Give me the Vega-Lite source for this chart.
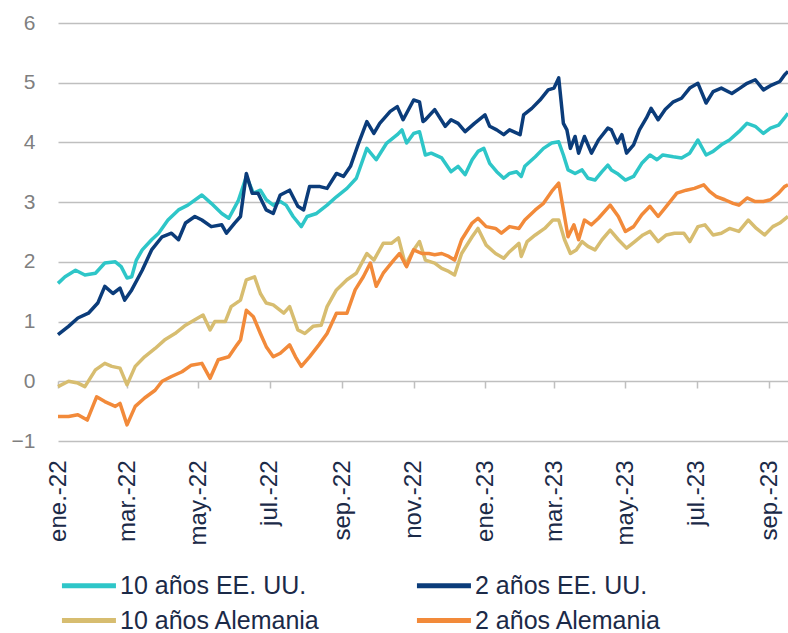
{
"$schema": "https://vega.github.io/schema/vega-lite/v6.json",
"width": 730, "height": 418,
"autosize": {"type": "none"},
"padding": {"left": 58, "top": 23, "right": 0, "bottom": 192},
"background": "white",
"config": {"view": {"stroke": null}, "font": "Liberation Sans"},
"data": {"values": [
{"s":"10 años EE. UU.","d":"2022-01-01","v":1.64},{"s":"10 años EE. UU.","d":"2022-01-07","v":1.75},{"s":"10 años EE. UU.","d":"2022-01-16","v":1.86},{"s":"10 años EE. UU.","d":"2022-01-24","v":1.78},{"s":"10 años EE. UU.","d":"2022-02-02","v":1.81},{"s":"10 años EE. UU.","d":"2022-02-10","v":1.98},{"s":"10 años EE. UU.","d":"2022-02-19","v":2.00},{"s":"10 años EE. UU.","d":"2022-02-24","v":1.92},{"s":"10 años EE. UU.","d":"2022-03-01","v":1.73},{"s":"10 años EE. UU.","d":"2022-03-05","v":1.75},{"s":"10 años EE. UU.","d":"2022-03-09","v":2.03},{"s":"10 años EE. UU.","d":"2022-03-14","v":2.20},{"s":"10 años EE. UU.","d":"2022-03-22","v":2.37},{"s":"10 años EE. UU.","d":"2022-03-28","v":2.48},{"s":"10 años EE. UU.","d":"2022-04-05","v":2.70},{"s":"10 años EE. UU.","d":"2022-04-14","v":2.87},{"s":"10 años EE. UU.","d":"2022-04-22","v":2.95},{"s":"10 años EE. UU.","d":"2022-05-04","v":3.12},{"s":"10 años EE. UU.","d":"2022-05-12","v":2.98},{"s":"10 años EE. UU.","d":"2022-05-21","v":2.81},{"s":"10 años EE. UU.","d":"2022-05-27","v":2.73},{"s":"10 años EE. UU.","d":"2022-06-04","v":3.02},{"s":"10 años EE. UU.","d":"2022-06-11","v":3.43},{"s":"10 años EE. UU.","d":"2022-06-17","v":3.15},{"s":"10 años EE. UU.","d":"2022-06-23","v":3.20},{"s":"10 años EE. UU.","d":"2022-06-28","v":3.04},{"s":"10 años EE. UU.","d":"2022-07-04","v":2.95},{"s":"10 años EE. UU.","d":"2022-07-10","v":3.01},{"s":"10 años EE. UU.","d":"2022-07-15","v":2.95},{"s":"10 años EE. UU.","d":"2022-07-21","v":2.76},{"s":"10 años EE. UU.","d":"2022-07-28","v":2.59},{"s":"10 años EE. UU.","d":"2022-08-02","v":2.76},{"s":"10 años EE. UU.","d":"2022-08-10","v":2.81},{"s":"10 años EE. UU.","d":"2022-08-19","v":2.95},{"s":"10 años EE. UU.","d":"2022-08-27","v":3.09},{"s":"10 años EE. UU.","d":"2022-09-05","v":3.23},{"s":"10 años EE. UU.","d":"2022-09-13","v":3.40},{"s":"10 años EE. UU.","d":"2022-09-22","v":3.90},{"s":"10 años EE. UU.","d":"2022-09-30","v":3.71},{"s":"10 años EE. UU.","d":"2022-10-09","v":3.99},{"s":"10 años EE. UU.","d":"2022-10-18","v":4.13},{"s":"10 años EE. UU.","d":"2022-10-22","v":4.21},{"s":"10 años EE. UU.","d":"2022-10-26","v":3.99},{"s":"10 años EE. UU.","d":"2022-11-01","v":4.15},{"s":"10 años EE. UU.","d":"2022-11-06","v":4.18},{"s":"10 años EE. UU.","d":"2022-11-11","v":3.79},{"s":"10 años EE. UU.","d":"2022-11-16","v":3.82},{"s":"10 años EE. UU.","d":"2022-11-25","v":3.74},{"s":"10 años EE. UU.","d":"2022-12-03","v":3.51},{"s":"10 años EE. UU.","d":"2022-12-09","v":3.60},{"s":"10 años EE. UU.","d":"2022-12-15","v":3.46},{"s":"10 años EE. UU.","d":"2022-12-21","v":3.71},{"s":"10 años EE. UU.","d":"2022-12-26","v":3.85},{"s":"10 años EE. UU.","d":"2022-12-31","v":3.90},{"s":"10 años EE. UU.","d":"2023-01-05","v":3.65},{"s":"10 años EE. UU.","d":"2023-01-11","v":3.51},{"s":"10 años EE. UU.","d":"2023-01-17","v":3.40},{"s":"10 años EE. UU.","d":"2023-01-22","v":3.48},{"s":"10 años EE. UU.","d":"2023-01-28","v":3.51},{"s":"10 años EE. UU.","d":"2023-02-01","v":3.43},{"s":"10 años EE. UU.","d":"2023-02-04","v":3.60},{"s":"10 años EE. UU.","d":"2023-02-13","v":3.76},{"s":"10 años EE. UU.","d":"2023-02-20","v":3.90},{"s":"10 años EE. UU.","d":"2023-02-27","v":3.99},{"s":"10 años EE. UU.","d":"2023-03-05","v":4.01},{"s":"10 años EE. UU.","d":"2023-03-09","v":3.79},{"s":"10 años EE. UU.","d":"2023-03-13","v":3.54},{"s":"10 años EE. UU.","d":"2023-03-19","v":3.48},{"s":"10 años EE. UU.","d":"2023-03-25","v":3.54},{"s":"10 años EE. UU.","d":"2023-03-30","v":3.40},{"s":"10 años EE. UU.","d":"2023-04-05","v":3.37},{"s":"10 años EE. UU.","d":"2023-04-11","v":3.51},{"s":"10 años EE. UU.","d":"2023-04-16","v":3.62},{"s":"10 años EE. UU.","d":"2023-04-19","v":3.54},{"s":"10 años EE. UU.","d":"2023-04-24","v":3.48},{"s":"10 años EE. UU.","d":"2023-05-01","v":3.37},{"s":"10 años EE. UU.","d":"2023-05-08","v":3.43},{"s":"10 años EE. UU.","d":"2023-05-15","v":3.65},{"s":"10 años EE. UU.","d":"2023-05-22","v":3.79},{"s":"10 años EE. UU.","d":"2023-05-28","v":3.71},{"s":"10 años EE. UU.","d":"2023-06-02","v":3.79},{"s":"10 años EE. UU.","d":"2023-06-11","v":3.76},{"s":"10 años EE. UU.","d":"2023-06-18","v":3.74},{"s":"10 años EE. UU.","d":"2023-06-25","v":3.82},{"s":"10 años EE. UU.","d":"2023-07-02","v":4.04},{"s":"10 años EE. UU.","d":"2023-07-09","v":3.79},{"s":"10 años EE. UU.","d":"2023-07-15","v":3.85},{"s":"10 años EE. UU.","d":"2023-07-22","v":3.96},{"s":"10 años EE. UU.","d":"2023-07-29","v":4.04},{"s":"10 años EE. UU.","d":"2023-08-06","v":4.18},{"s":"10 años EE. UU.","d":"2023-08-13","v":4.32},{"s":"10 años EE. UU.","d":"2023-08-20","v":4.27},{"s":"10 años EE. UU.","d":"2023-08-27","v":4.15},{"s":"10 años EE. UU.","d":"2023-09-02","v":4.24},{"s":"10 años EE. UU.","d":"2023-09-09","v":4.29},{"s":"10 años EE. UU.","d":"2023-09-14","v":4.41},{"s":"10 años EE. UU.","d":"2023-09-17","v":4.49},
{"s":"2 años EE. UU.","d":"2022-01-01","v":0.78},{"s":"2 años EE. UU.","d":"2022-01-10","v":0.92},{"s":"2 años EE. UU.","d":"2022-01-18","v":1.06},{"s":"2 años EE. UU.","d":"2022-01-27","v":1.14},{"s":"2 años EE. UU.","d":"2022-02-04","v":1.31},{"s":"2 años EE. UU.","d":"2022-02-10","v":1.59},{"s":"2 años EE. UU.","d":"2022-02-17","v":1.47},{"s":"2 años EE. UU.","d":"2022-02-23","v":1.56},{"s":"2 años EE. UU.","d":"2022-02-27","v":1.36},{"s":"2 años EE. UU.","d":"2022-03-05","v":1.53},{"s":"2 años EE. UU.","d":"2022-03-14","v":1.86},{"s":"2 años EE. UU.","d":"2022-03-22","v":2.20},{"s":"2 años EE. UU.","d":"2022-03-31","v":2.42},{"s":"2 años EE. UU.","d":"2022-04-08","v":2.48},{"s":"2 años EE. UU.","d":"2022-04-14","v":2.37},{"s":"2 años EE. UU.","d":"2022-04-20","v":2.65},{"s":"2 años EE. UU.","d":"2022-04-28","v":2.76},{"s":"2 años EE. UU.","d":"2022-05-04","v":2.70},{"s":"2 años EE. UU.","d":"2022-05-12","v":2.59},{"s":"2 años EE. UU.","d":"2022-05-21","v":2.62},{"s":"2 años EE. UU.","d":"2022-05-25","v":2.48},{"s":"2 años EE. UU.","d":"2022-06-01","v":2.65},{"s":"2 años EE. UU.","d":"2022-06-06","v":2.76},{"s":"2 años EE. UU.","d":"2022-06-11","v":3.48},{"s":"2 años EE. UU.","d":"2022-06-16","v":3.15},{"s":"2 años EE. UU.","d":"2022-06-21","v":3.15},{"s":"2 años EE. UU.","d":"2022-06-28","v":2.87},{"s":"2 años EE. UU.","d":"2022-07-04","v":2.81},{"s":"2 años EE. UU.","d":"2022-07-10","v":3.12},{"s":"2 años EE. UU.","d":"2022-07-18","v":3.20},{"s":"2 años EE. UU.","d":"2022-07-25","v":2.93},{"s":"2 años EE. UU.","d":"2022-07-30","v":2.87},{"s":"2 años EE. UU.","d":"2022-08-04","v":3.26},{"s":"2 años EE. UU.","d":"2022-08-13","v":3.26},{"s":"2 años EE. UU.","d":"2022-08-19","v":3.23},{"s":"2 años EE. UU.","d":"2022-08-27","v":3.48},{"s":"2 años EE. UU.","d":"2022-09-02","v":3.43},{"s":"2 años EE. UU.","d":"2022-09-08","v":3.60},{"s":"2 años EE. UU.","d":"2022-09-15","v":3.99},{"s":"2 años EE. UU.","d":"2022-09-22","v":4.35},{"s":"2 años EE. UU.","d":"2022-09-28","v":4.15},{"s":"2 años EE. UU.","d":"2022-10-03","v":4.32},{"s":"2 años EE. UU.","d":"2022-10-12","v":4.52},{"s":"2 años EE. UU.","d":"2022-10-18","v":4.60},{"s":"2 años EE. UU.","d":"2022-10-23","v":4.38},{"s":"2 años EE. UU.","d":"2022-11-01","v":4.71},{"s":"2 años EE. UU.","d":"2022-11-06","v":4.68},{"s":"2 años EE. UU.","d":"2022-11-09","v":4.35},{"s":"2 años EE. UU.","d":"2022-11-11","v":4.38},{"s":"2 años EE. UU.","d":"2022-11-19","v":4.55},{"s":"2 años EE. UU.","d":"2022-11-28","v":4.27},{"s":"2 años EE. UU.","d":"2022-12-03","v":4.38},{"s":"2 años EE. UU.","d":"2022-12-09","v":4.32},{"s":"2 años EE. UU.","d":"2022-12-15","v":4.18},{"s":"2 años EE. UU.","d":"2022-12-23","v":4.32},{"s":"2 años EE. UU.","d":"2023-01-01","v":4.46},{"s":"2 años EE. UU.","d":"2023-01-05","v":4.27},{"s":"2 años EE. UU.","d":"2023-01-11","v":4.21},{"s":"2 años EE. UU.","d":"2023-01-17","v":4.13},{"s":"2 años EE. UU.","d":"2023-01-22","v":4.21},{"s":"2 años EE. UU.","d":"2023-01-31","v":4.13},{"s":"2 años EE. UU.","d":"2023-02-03","v":4.46},{"s":"2 años EE. UU.","d":"2023-02-10","v":4.57},{"s":"2 años EE. UU.","d":"2023-02-17","v":4.71},{"s":"2 años EE. UU.","d":"2023-02-24","v":4.88},{"s":"2 años EE. UU.","d":"2023-03-01","v":4.91},{"s":"2 años EE. UU.","d":"2023-03-05","v":5.08},{"s":"2 años EE. UU.","d":"2023-03-09","v":4.32},{"s":"2 años EE. UU.","d":"2023-03-12","v":4.21},{"s":"2 años EE. UU.","d":"2023-03-15","v":3.90},{"s":"2 años EE. UU.","d":"2023-03-19","v":4.10},{"s":"2 años EE. UU.","d":"2023-03-22","v":3.82},{"s":"2 años EE. UU.","d":"2023-03-27","v":4.10},{"s":"2 años EE. UU.","d":"2023-04-02","v":3.82},{"s":"2 años EE. UU.","d":"2023-04-08","v":4.04},{"s":"2 años EE. UU.","d":"2023-04-16","v":4.24},{"s":"2 años EE. UU.","d":"2023-04-19","v":4.21},{"s":"2 años EE. UU.","d":"2023-04-24","v":3.99},{"s":"2 años EE. UU.","d":"2023-04-28","v":4.13},{"s":"2 años EE. UU.","d":"2023-05-02","v":3.82},{"s":"2 años EE. UU.","d":"2023-05-08","v":3.96},{"s":"2 años EE. UU.","d":"2023-05-13","v":4.21},{"s":"2 años EE. UU.","d":"2023-05-19","v":4.41},{"s":"2 años EE. UU.","d":"2023-05-23","v":4.57},{"s":"2 años EE. UU.","d":"2023-05-29","v":4.38},{"s":"2 años EE. UU.","d":"2023-06-04","v":4.55},{"s":"2 años EE. UU.","d":"2023-06-11","v":4.68},{"s":"2 años EE. UU.","d":"2023-06-18","v":4.74},{"s":"2 años EE. UU.","d":"2023-06-25","v":4.91},{"s":"2 años EE. UU.","d":"2023-07-02","v":4.99},{"s":"2 años EE. UU.","d":"2023-07-09","v":4.66},{"s":"2 años EE. UU.","d":"2023-07-15","v":4.85},{"s":"2 años EE. UU.","d":"2023-07-22","v":4.91},{"s":"2 años EE. UU.","d":"2023-07-31","v":4.82},{"s":"2 años EE. UU.","d":"2023-08-07","v":4.91},{"s":"2 años EE. UU.","d":"2023-08-13","v":4.99},{"s":"2 años EE. UU.","d":"2023-08-20","v":5.05},{"s":"2 años EE. UU.","d":"2023-08-27","v":4.88},{"s":"2 años EE. UU.","d":"2023-09-03","v":4.96},{"s":"2 años EE. UU.","d":"2023-09-10","v":5.02},{"s":"2 años EE. UU.","d":"2023-09-14","v":5.13},{"s":"2 años EE. UU.","d":"2023-09-17","v":5.19},
{"s":"10 años Alemania","d":"2022-01-01","v":-0.09},{"s":"10 años Alemania","d":"2022-01-10","v":0.00},{"s":"10 años Alemania","d":"2022-01-18","v":-0.03},{"s":"10 años Alemania","d":"2022-01-24","v":-0.09},{"s":"10 años Alemania","d":"2022-02-02","v":0.19},{"s":"10 años Alemania","d":"2022-02-10","v":0.30},{"s":"10 años Alemania","d":"2022-02-16","v":0.25},{"s":"10 años Alemania","d":"2022-02-23","v":0.22},{"s":"10 años Alemania","d":"2022-03-01","v":-0.06},{"s":"10 años Alemania","d":"2022-03-08","v":0.25},{"s":"10 años Alemania","d":"2022-03-16","v":0.41},{"s":"10 años Alemania","d":"2022-03-25","v":0.55},{"s":"10 años Alemania","d":"2022-04-02","v":0.69},{"s":"10 años Alemania","d":"2022-04-11","v":0.80},{"s":"10 años Alemania","d":"2022-04-20","v":0.94},{"s":"10 años Alemania","d":"2022-04-28","v":1.03},{"s":"10 años Alemania","d":"2022-05-05","v":1.11},{"s":"10 años Alemania","d":"2022-05-11","v":0.86},{"s":"10 años Alemania","d":"2022-05-15","v":1.00},{"s":"10 años Alemania","d":"2022-05-24","v":1.00},{"s":"10 años Alemania","d":"2022-05-29","v":1.25},{"s":"10 años Alemania","d":"2022-06-06","v":1.36},{"s":"10 años Alemania","d":"2022-06-11","v":1.70},{"s":"10 años Alemania","d":"2022-06-18","v":1.75},{"s":"10 años Alemania","d":"2022-06-23","v":1.47},{"s":"10 años Alemania","d":"2022-06-28","v":1.31},{"s":"10 años Alemania","d":"2022-07-04","v":1.28},{"s":"10 años Alemania","d":"2022-07-13","v":1.14},{"s":"10 años Alemania","d":"2022-07-18","v":1.25},{"s":"10 años Alemania","d":"2022-07-25","v":0.86},{"s":"10 años Alemania","d":"2022-07-31","v":0.80},{"s":"10 años Alemania","d":"2022-08-07","v":0.92},{"s":"10 años Alemania","d":"2022-08-14","v":0.94},{"s":"10 años Alemania","d":"2022-08-19","v":1.25},{"s":"10 años Alemania","d":"2022-08-27","v":1.53},{"s":"10 años Alemania","d":"2022-09-05","v":1.70},{"s":"10 años Alemania","d":"2022-09-13","v":1.81},{"s":"10 años Alemania","d":"2022-09-22","v":2.14},{"s":"10 años Alemania","d":"2022-09-28","v":2.03},{"s":"10 años Alemania","d":"2022-10-06","v":2.31},{"s":"10 años Alemania","d":"2022-10-13","v":2.31},{"s":"10 años Alemania","d":"2022-10-19","v":2.40},{"s":"10 años Alemania","d":"2022-10-25","v":1.95},{"s":"10 años Alemania","d":"2022-11-01","v":2.20},{"s":"10 años Alemania","d":"2022-11-06","v":2.34},{"s":"10 años Alemania","d":"2022-11-11","v":2.03},{"s":"10 años Alemania","d":"2022-11-19","v":1.98},{"s":"10 años Alemania","d":"2022-11-25","v":1.89},{"s":"10 años Alemania","d":"2022-12-01","v":1.84},{"s":"10 años Alemania","d":"2022-12-06","v":1.78},{"s":"10 años Alemania","d":"2022-12-12","v":2.14},{"s":"10 años Alemania","d":"2022-12-21","v":2.42},{"s":"10 años Alemania","d":"2022-12-26","v":2.56},{"s":"10 años Alemania","d":"2023-01-02","v":2.28},{"s":"10 años Alemania","d":"2023-01-10","v":2.14},{"s":"10 años Alemania","d":"2023-01-17","v":2.06},{"s":"10 años Alemania","d":"2023-01-22","v":2.17},{"s":"10 años Alemania","d":"2023-01-30","v":2.31},{"s":"10 años Alemania","d":"2023-02-01","v":2.09},{"s":"10 años Alemania","d":"2023-02-06","v":2.34},{"s":"10 años Alemania","d":"2023-02-13","v":2.45},{"s":"10 años Alemania","d":"2023-02-21","v":2.56},{"s":"10 años Alemania","d":"2023-02-28","v":2.70},{"s":"10 años Alemania","d":"2023-03-05","v":2.70},{"s":"10 años Alemania","d":"2023-03-10","v":2.37},{"s":"10 años Alemania","d":"2023-03-15","v":2.14},{"s":"10 años Alemania","d":"2023-03-20","v":2.20},{"s":"10 años Alemania","d":"2023-03-25","v":2.34},{"s":"10 años Alemania","d":"2023-03-30","v":2.26},{"s":"10 años Alemania","d":"2023-04-05","v":2.20},{"s":"10 años Alemania","d":"2023-04-11","v":2.37},{"s":"10 años Alemania","d":"2023-04-18","v":2.53},{"s":"10 años Alemania","d":"2023-04-25","v":2.37},{"s":"10 años Alemania","d":"2023-05-02","v":2.23},{"s":"10 años Alemania","d":"2023-05-09","v":2.34},{"s":"10 años Alemania","d":"2023-05-16","v":2.45},{"s":"10 años Alemania","d":"2023-05-22","v":2.51},{"s":"10 años Alemania","d":"2023-05-29","v":2.34},{"s":"10 años Alemania","d":"2023-06-05","v":2.45},{"s":"10 años Alemania","d":"2023-06-12","v":2.48},{"s":"10 años Alemania","d":"2023-06-20","v":2.48},{"s":"10 años Alemania","d":"2023-06-25","v":2.34},{"s":"10 años Alemania","d":"2023-07-02","v":2.59},{"s":"10 años Alemania","d":"2023-07-08","v":2.62},{"s":"10 años Alemania","d":"2023-07-15","v":2.45},{"s":"10 años Alemania","d":"2023-07-22","v":2.48},{"s":"10 años Alemania","d":"2023-07-29","v":2.56},{"s":"10 años Alemania","d":"2023-08-06","v":2.51},{"s":"10 años Alemania","d":"2023-08-14","v":2.70},{"s":"10 años Alemania","d":"2023-08-21","v":2.56},{"s":"10 años Alemania","d":"2023-08-28","v":2.45},{"s":"10 años Alemania","d":"2023-09-04","v":2.59},{"s":"10 años Alemania","d":"2023-09-10","v":2.65},{"s":"10 años Alemania","d":"2023-09-17","v":2.76},
{"s":"2 años Alemania","d":"2022-01-01","v":-0.59},{"s":"2 años Alemania","d":"2022-01-10","v":-0.59},{"s":"2 años Alemania","d":"2022-01-18","v":-0.56},{"s":"2 años Alemania","d":"2022-01-26","v":-0.65},{"s":"2 años Alemania","d":"2022-02-03","v":-0.26},{"s":"2 años Alemania","d":"2022-02-10","v":-0.34},{"s":"2 años Alemania","d":"2022-02-19","v":-0.42},{"s":"2 años Alemania","d":"2022-02-23","v":-0.37},{"s":"2 años Alemania","d":"2022-03-01","v":-0.73},{"s":"2 años Alemania","d":"2022-03-08","v":-0.42},{"s":"2 años Alemania","d":"2022-03-16","v":-0.28},{"s":"2 años Alemania","d":"2022-03-25","v":-0.15},{"s":"2 años Alemania","d":"2022-03-31","v":0.00},{"s":"2 años Alemania","d":"2022-04-08","v":0.08},{"s":"2 años Alemania","d":"2022-04-17","v":0.16},{"s":"2 años Alemania","d":"2022-04-25","v":0.27},{"s":"2 años Alemania","d":"2022-05-04","v":0.30},{"s":"2 años Alemania","d":"2022-05-11","v":0.05},{"s":"2 años Alemania","d":"2022-05-18","v":0.36},{"s":"2 años Alemania","d":"2022-05-27","v":0.41},{"s":"2 años Alemania","d":"2022-06-03","v":0.61},{"s":"2 años Alemania","d":"2022-06-06","v":0.69},{"s":"2 años Alemania","d":"2022-06-11","v":1.19},{"s":"2 años Alemania","d":"2022-06-17","v":1.08},{"s":"2 años Alemania","d":"2022-06-23","v":0.80},{"s":"2 años Alemania","d":"2022-06-28","v":0.58},{"s":"2 años Alemania","d":"2022-07-04","v":0.41},{"s":"2 años Alemania","d":"2022-07-10","v":0.47},{"s":"2 años Alemania","d":"2022-07-18","v":0.61},{"s":"2 años Alemania","d":"2022-07-23","v":0.41},{"s":"2 años Alemania","d":"2022-07-28","v":0.25},{"s":"2 años Alemania","d":"2022-08-04","v":0.41},{"s":"2 años Alemania","d":"2022-08-12","v":0.61},{"s":"2 años Alemania","d":"2022-08-19","v":0.80},{"s":"2 años Alemania","d":"2022-08-27","v":1.14},{"s":"2 años Alemania","d":"2022-09-05","v":1.14},{"s":"2 años Alemania","d":"2022-09-12","v":1.53},{"s":"2 años Alemania","d":"2022-09-19","v":1.75},{"s":"2 años Alemania","d":"2022-09-25","v":1.98},{"s":"2 años Alemania","d":"2022-09-30","v":1.59},{"s":"2 años Alemania","d":"2022-10-06","v":1.81},{"s":"2 años Alemania","d":"2022-10-15","v":2.03},{"s":"2 años Alemania","d":"2022-10-20","v":2.14},{"s":"2 años Alemania","d":"2022-10-26","v":1.92},{"s":"2 años Alemania","d":"2022-11-01","v":2.20},{"s":"2 años Alemania","d":"2022-11-08","v":2.14},{"s":"2 años Alemania","d":"2022-11-14","v":2.14},{"s":"2 años Alemania","d":"2022-11-19","v":2.12},{"s":"2 años Alemania","d":"2022-11-25","v":2.14},{"s":"2 años Alemania","d":"2022-12-01","v":2.09},{"s":"2 años Alemania","d":"2022-12-06","v":2.03},{"s":"2 años Alemania","d":"2022-12-12","v":2.37},{"s":"2 años Alemania","d":"2022-12-21","v":2.65},{"s":"2 años Alemania","d":"2022-12-26","v":2.73},{"s":"2 años Alemania","d":"2023-01-02","v":2.59},{"s":"2 años Alemania","d":"2023-01-10","v":2.56},{"s":"2 años Alemania","d":"2023-01-15","v":2.48},{"s":"2 años Alemania","d":"2023-01-22","v":2.59},{"s":"2 años Alemania","d":"2023-01-30","v":2.56},{"s":"2 años Alemania","d":"2023-02-04","v":2.70},{"s":"2 años Alemania","d":"2023-02-13","v":2.87},{"s":"2 años Alemania","d":"2023-02-20","v":2.98},{"s":"2 años Alemania","d":"2023-02-27","v":3.18},{"s":"2 años Alemania","d":"2023-03-05","v":3.32},{"s":"2 años Alemania","d":"2023-03-09","v":2.87},{"s":"2 años Alemania","d":"2023-03-13","v":2.42},{"s":"2 años Alemania","d":"2023-03-18","v":2.62},{"s":"2 años Alemania","d":"2023-03-22","v":2.37},{"s":"2 años Alemania","d":"2023-03-27","v":2.70},{"s":"2 años Alemania","d":"2023-04-02","v":2.62},{"s":"2 años Alemania","d":"2023-04-08","v":2.73},{"s":"2 años Alemania","d":"2023-04-18","v":2.95},{"s":"2 años Alemania","d":"2023-04-25","v":2.76},{"s":"2 años Alemania","d":"2023-05-01","v":2.51},{"s":"2 años Alemania","d":"2023-05-08","v":2.59},{"s":"2 años Alemania","d":"2023-05-15","v":2.79},{"s":"2 años Alemania","d":"2023-05-22","v":2.93},{"s":"2 años Alemania","d":"2023-05-29","v":2.76},{"s":"2 años Alemania","d":"2023-06-05","v":2.93},{"s":"2 años Alemania","d":"2023-06-14","v":3.15},{"s":"2 años Alemania","d":"2023-06-22","v":3.20},{"s":"2 años Alemania","d":"2023-06-29","v":3.23},{"s":"2 años Alemania","d":"2023-07-07","v":3.29},{"s":"2 años Alemania","d":"2023-07-12","v":3.18},{"s":"2 años Alemania","d":"2023-07-18","v":3.09},{"s":"2 años Alemania","d":"2023-07-25","v":3.04},{"s":"2 años Alemania","d":"2023-08-01","v":2.98},{"s":"2 años Alemania","d":"2023-08-06","v":2.95},{"s":"2 años Alemania","d":"2023-08-13","v":3.07},{"s":"2 años Alemania","d":"2023-08-20","v":3.01},{"s":"2 años Alemania","d":"2023-08-27","v":3.01},{"s":"2 años Alemania","d":"2023-09-02","v":3.04},{"s":"2 años Alemania","d":"2023-09-09","v":3.15},{"s":"2 años Alemania","d":"2023-09-14","v":3.26},{"s":"2 años Alemania","d":"2023-09-17","v":3.29}
]},
"layer": [
{
 "data": {"values": [{}]},
 "mark": {"type": "rule", "opacity": 0},
 "encoding": {
  "x": {"datum": {"year": 2022, "month": 1, "date": 1, "utc": true}, "type": "temporal",
   "axis": {"orient": "bottom", "offset": -60, "labels": false, "domain": false, "grid": false, "ticks": true, "tickSize": 7, "tickColor": "#bfbfbf", "tickWidth": 1.5, "tickCount": {"interval": "month", "step": 2}, "title": null}}
 }
},
{
 "mark": {"type": "line", "strokeWidth": 3.5, "strokeJoin": "round"},
 "encoding": {
  "x": {"field": "d", "type": "temporal",
   "scale": {"type": "utc", "domain": [{"year": 2022, "month": 1, "date": 1, "utc": true}, {"year": 2023, "month": 9, "date": 17, "utc": true}]},
   "axis": {"orient": "bottom", "title": null, "domain": false, "grid": false, "ticks": false, "tickSize": 0, "labelPadding": 19, "labelAngle": -90, "labelFontSize": 24, "labelColor": "#1b2a48", "tickCount": {"interval": "month", "step": 2},
    "labelExpr": "['ene.','feb.','mar.','abr.','may.','jun.','jul.','ago.','sep.','oct.','nov.','dic.'][utcmonth(datum.value)] + '-' + utcFormat(datum.value, '%y')"}},
  "y": {"field": "v", "type": "quantitative",
   "scale": {"domain": [-1, 6], "nice": false, "zero": false},
   "axis": {"title": null, "domain": false, "ticks": false, "values": [-1, 0, 1, 2, 3, 4, 5, 6], "labelPadding": 23, "labelFontSize": 21, "labelColor": "#7f7f7f", "gridColor": "#bfbfbf", "gridWidth": 1.5}},
  "color": {"field": "s", "type": "nominal",
   "scale": {"domain": ["10 años EE. UU.", "2 años EE. UU.", "10 años Alemania", "2 años Alemania"], "range": ["#2ec6c8", "#0b3c7a", "#d7bd70", "#f28a3a"]},
   "legend": {"title": null, "orient": "none", "legendX": 4, "legendY": 545, "direction": "horizontal", "columns": 2, "symbolType": "M-1.17,0H2.43", "symbolSize": 900, "symbolStrokeWidth": 5, "labelOffset": 23, "labelFontSize": 25, "labelColor": "#1b2a48", "labelLimit": 400, "columnPadding": 85, "rowPadding": 4}}
 }
}
],
"resolve": {"axis": {"x": "independent"}}
}
